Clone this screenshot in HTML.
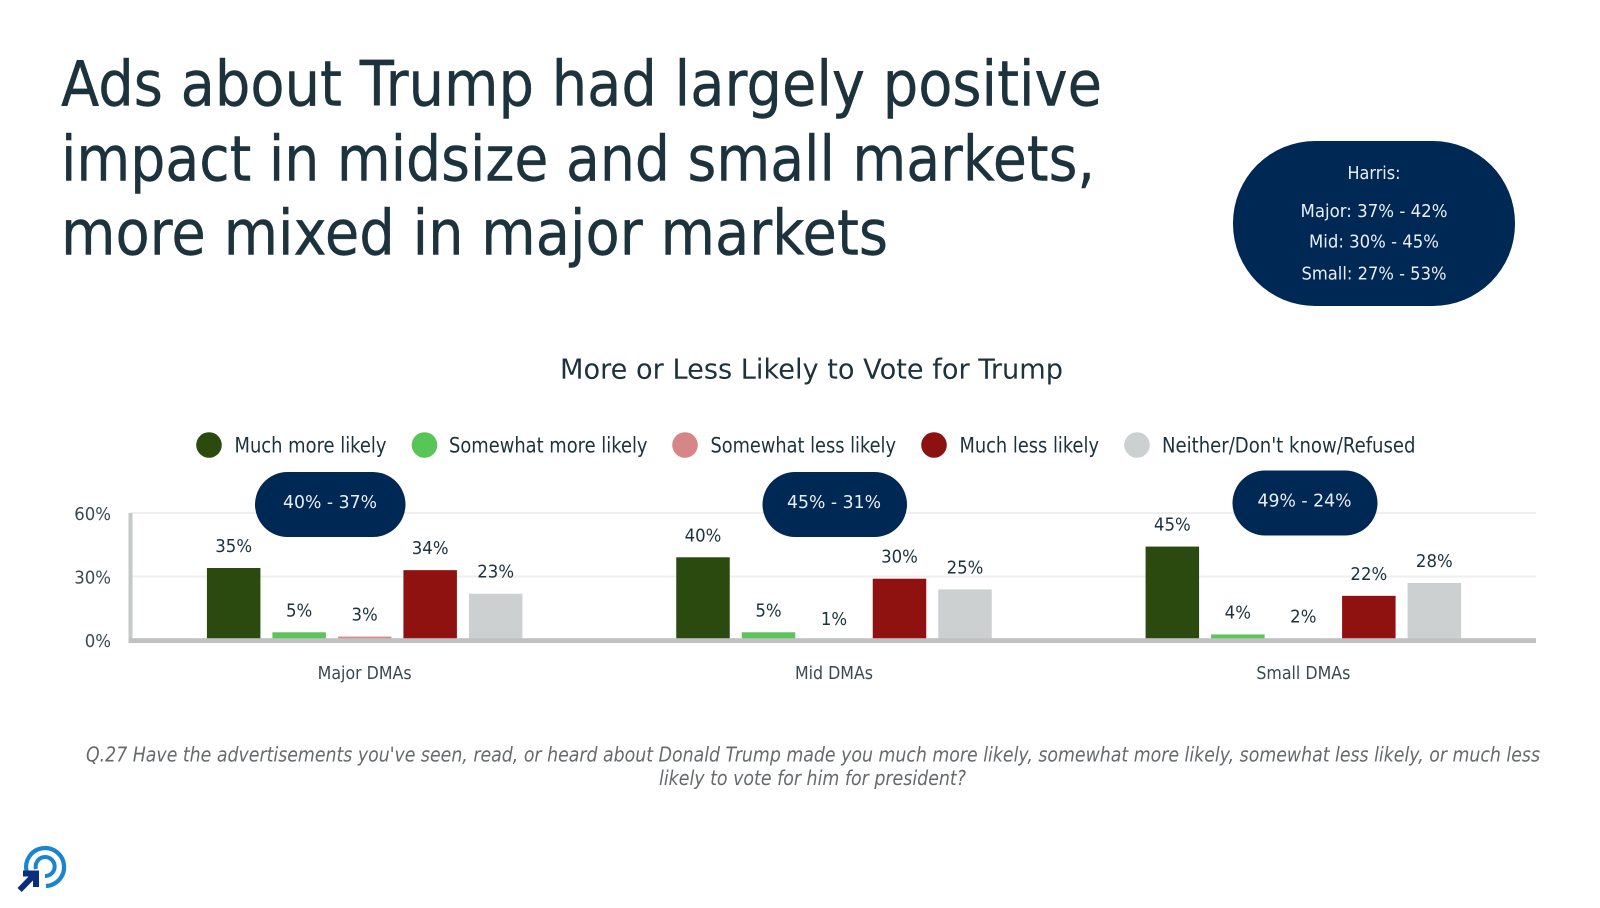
<!DOCTYPE html>
<html lang="en">
<head>
<meta charset="utf-8">
<title>Ads about Trump</title>
<style>
html,body{margin:0;padding:0;background:#fff;width:1600px;height:908px;overflow:hidden}
svg{display:block}
text{font-family:"DejaVu Sans","Liberation Sans",sans-serif}
.dark{fill:#1c323c}
</style>
</head>
<body>
<svg id="slide" width="1600" height="908" viewBox="0 0 1600 908" xmlns="http://www.w3.org/2000/svg">
  <g class="dark" font-size="62" stroke="#1c323c" stroke-width="0.4">
    <text x="61" y="105.5" textLength="1041" lengthAdjust="spacingAndGlyphs">Ads about Trump had largely positive</text>
    <text x="61" y="180.5" textLength="1034" lengthAdjust="spacingAndGlyphs">impact in midsize and small markets,</text>
    <text x="61" y="254.5" textLength="827" lengthAdjust="spacingAndGlyphs">more mixed in major markets</text>
  </g>

  <g>
    <rect x="1233" y="141" width="282" height="165" rx="82" ry="82" fill="#002855"/>
    <g fill="#e8eef2" font-size="18" text-anchor="middle">
      <text x="1374" y="179" textLength="53" lengthAdjust="spacingAndGlyphs">Harris:</text>
      <text x="1374" y="217" textLength="147" lengthAdjust="spacingAndGlyphs">Major: 37% - 42%</text>
      <text x="1374" y="247.5" textLength="130" lengthAdjust="spacingAndGlyphs">Mid: 30% - 45%</text>
      <text x="1374" y="279.5" textLength="145" lengthAdjust="spacingAndGlyphs">Small: 27% - 53%</text>
    </g>
  </g>

  <text x="811.5" y="378.5" text-anchor="middle" font-size="28" class="dark" textLength="503" lengthAdjust="spacingAndGlyphs">More or Less Likely to Vote for Trump</text>

  <g class="dark" font-size="21">
    <g>
      <circle cx="209" cy="445" r="12.8" fill="#2b4a10"/>
      <text x="234.5" y="452.5" textLength="152" lengthAdjust="spacingAndGlyphs">Much more likely</text>
    </g>
    <g>
      <circle cx="424.5" cy="445" r="12.8" fill="#58c558"/>
      <text x="449" y="452.5" textLength="198.5" lengthAdjust="spacingAndGlyphs">Somewhat more likely</text>
    </g>
    <g>
      <circle cx="685" cy="445" r="12.8" fill="#d68686"/>
      <text x="710.5" y="452.5" textLength="185.5" lengthAdjust="spacingAndGlyphs">Somewhat less likely</text>
    </g>
    <g>
      <circle cx="934" cy="445" r="12.8" fill="#8c1212"/>
      <text x="959.5" y="452.5" textLength="139.5" lengthAdjust="spacingAndGlyphs">Much less likely</text>
    </g>
    <g>
      <circle cx="1137" cy="445" r="12.8" fill="#ccd0d1"/>
      <text x="1162" y="452.5" textLength="253.5" lengthAdjust="spacingAndGlyphs">Neither/Don't know/Refused</text>
    </g>
  </g>

  <g id="chart"></g>

  <g>
    <g>
      <rect x="255" y="472" width="150.5" height="65" rx="32.5" fill="#002855"/>
      <text x="330" y="508" text-anchor="middle" font-size="18" fill="#e8eef2" textLength="94" lengthAdjust="spacingAndGlyphs">40% - 37%</text>
    </g>
    <g>
      <rect x="762.5" y="472" width="144.5" height="65" rx="32.5" fill="#002855"/>
      <text x="834" y="508" text-anchor="middle" font-size="18" fill="#e8eef2" textLength="94" lengthAdjust="spacingAndGlyphs">45% - 31%</text>
    </g>
    <g>
      <rect x="1232.5" y="470.5" width="145" height="65" rx="32.5" fill="#002855"/>
      <text x="1304.5" y="506.5" text-anchor="middle" font-size="18" fill="#e8eef2" textLength="94" lengthAdjust="spacingAndGlyphs">49% - 24%</text>
    </g>
  </g>

  <g fill="#666a6c" font-size="20" font-style="italic" text-anchor="middle">
    <text x="813" y="761.5" textLength="1454" lengthAdjust="spacingAndGlyphs">Q.27 Have the advertisements you've seen, read, or heard about Donald Trump made you much more likely, somewhat more likely, somewhat less likely, or much less</text>
    <text x="812.5" y="785" textLength="307" lengthAdjust="spacingAndGlyphs">likely to vote for him for president?</text>
  </g>

  <g>
    <path d="M26.5 871 A19 19 0 1 1 46 886" fill="none" stroke="#1b84d0" stroke-width="4.2"/>
    <path d="M36 869 A9.5 9.5 0 1 1 45 876" fill="none" stroke="#1b84d0" stroke-width="4"/>
    <polygon points="23,870.5 39,870.5 39,887 33,887 33,880.5 21.7,892 17.5,888 28.5,876.5 23,876.5" fill="#0b2d7e"/>
  </g>
</svg>

<script>
const categories = ['Major DMAs', 'Mid DMAs', 'Small DMAs'];
const muchMoreLikely = [35, 40, 45];
const somewhatMoreLikely = [5, 5, 4];
const somewhatLessLikely = [3, 1, 2];
const muchLessLikely = [34, 30, 22];
const neitherDontKnow = [23, 25, 28];
const yTickValues = [0, 30, 60];
const seriesValues = [muchMoreLikely, somewhatMoreLikely, somewhatLessLikely, muchLessLikely, neitherDontKnow];
const seriesNames = ['much-more-likely', 'somewhat-more-likely', 'somewhat-less-likely', 'much-less-likely', 'neither'];
const seriesColors = ['#2b4a10', '#5cc45a', '#d98a8a', '#8f1210', '#ccd0d1'];

const NS = 'http://www.w3.org/2000/svg';
const chart = document.getElementById('chart');
const PLOT_LEFT = 131, PLOT_RIGHT = 1536;
const BAR_WIDTH = 53.5, BAR_STEP = 65.5;
const bandWidth = (PLOT_RIGHT - PLOT_LEFT + 3) / categories.length;

function yScale(v) { return 643 - v * 2.143; }
function tickY(v) { return 640 - v * 2.117; }
function bandCenter(i) { return PLOT_LEFT + bandWidth * (i + 0.5) - 1; }
function barLeft(i, s) { return bandCenter(i) + (s - (seriesValues.length - 1) / 2) * BAR_STEP - BAR_WIDTH / 2; }

function make(tag, attrs) {
  const el = document.createElementNS(NS, tag);
  Object.keys(attrs).forEach(function (k) { el.setAttribute(k, attrs[k]); });
  return el;
}
function addText(el, str, factor) {
  el.textContent = str;
  chart.appendChild(el);
  el.setAttribute('textLength', (el.getComputedTextLength() * factor).toFixed(1));
  el.setAttribute('lengthAdjust', 'spacingAndGlyphs');
}

yTickValues.forEach(function (v) {
  if (v !== 0) {
    const grid = make('line', { x1: PLOT_LEFT, x2: PLOT_RIGHT, y1: tickY(v), y2: tickY(v), stroke: '#efefef', 'stroke-width': 2 });
    
    
    chart.appendChild(grid);
  }
  const tick = make('text', { x: 111, y: tickY(v) + 7, 'text-anchor': 'end', 'font-size': 18, fill: '#3c4a50' });
  
  
  addText(tick, v + '%', 0.92);
});

seriesValues.forEach(function (values, s) {
  values.forEach(function (v, i) {
    const bar = make('rect', { x: barLeft(i, s), y: yScale(v), width: BAR_WIDTH, height: yScale(0) - yScale(v), fill: seriesColors[s] });
    
    
    chart.appendChild(bar);
  });
});

const yAxis = make('rect', { x: 128.5, y: tickY(60), width: 4, height: 642.7 - tickY(60), fill: '#c6c8c8' });


chart.appendChild(yAxis);

const xAxis = make('rect', { x: 128.5, y: 638.2, width: PLOT_RIGHT - 128.5, height: 4.8, fill: '#c0c2c2' });


chart.appendChild(xAxis);

seriesValues.forEach(function (values, s) {
  values.forEach(function (v, i) {
    const label = make('text', { x: barLeft(i, s) + BAR_WIDTH / 2, y: yScale(v) - 16, 'text-anchor': 'middle', 'font-size': 18, fill: '#1c323c' });
    
    
    addText(label, v + '%', 0.92);
  });
});

categories.forEach(function (c, i) {
  const cat = make('text', { x: bandCenter(i), y: 679, 'text-anchor': 'middle', 'font-size': 18, fill: '#3c4a50' });
  
  
  addText(cat, c, 0.88);
});
</script>
</body>
</html>
